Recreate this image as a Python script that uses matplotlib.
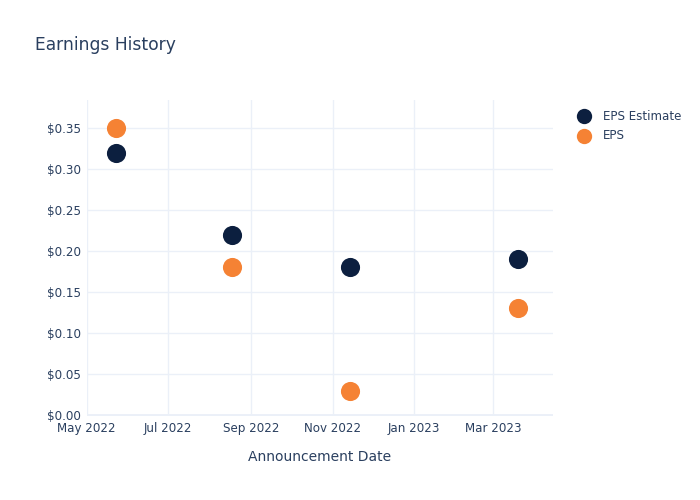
import numpy as np
import pandas as pd
import matplotlib.pyplot as plt
import matplotlib.dates as mdates
from matplotlib.ticker import FuncFormatter

# data
dates = pd.to_datetime(['2022-05-23', '2022-08-18', '2022-11-14', '2023-03-20'])
eps_estimate = [0.32, 0.22, 0.18, 0.19]
eps_actual = [0.35, 0.18, 0.03, 0.13]

navy = '#0c1f3f'
orange = '#f58234'
txt = '#2a3f5f'
grid = '#ebf0f8'

fig = plt.figure(figsize=(7, 5), dpi=100)
ax = fig.add_axes([0.124, 0.168, 0.666, 0.632])

ax.scatter(dates, eps_estimate, s=190, color=navy, label='EPS Estimate', zorder=3, linewidths=0)
ax.scatter(dates, eps_actual, s=190, color=orange, label='EPS', zorder=3, linewidths=0)

ax.set_xlim(pd.Timestamp('2022-05-01'), pd.Timestamp('2023-04-15'))
ax.set_ylim(-0.001, 0.384)

ax.xaxis.set_major_locator(mdates.MonthLocator(bymonth=[1, 3, 5, 7, 9, 11]))
ax.xaxis.set_major_formatter(mdates.DateFormatter('%b %Y'))
ax.set_yticks(np.arange(0, 0.36, 0.05))
ax.yaxis.set_major_formatter(FuncFormatter(lambda v, p: f'${v:.2f}'))

ax.grid(True, color=grid, linewidth=1)
ax.axhline(0, color=grid, linewidth=2, zorder=1)
for s in ax.spines.values():
    s.set_visible(False)
ax.tick_params(length=0, labelsize=8.6, colors=txt, pad=4)

ax.set_xlabel('Announcement Date', fontsize=10, color=txt, labelpad=11)
fig.text(0.05, 0.91, 'Earnings History', fontsize=12.3, color=txt, va='center')

leg = ax.legend(loc='upper left', bbox_to_anchor=(1.03, 0.985), frameon=False,
                fontsize=8.6, labelcolor=txt, handletextpad=0.6, markerscale=0.8,
                borderaxespad=0, labelspacing=0.55)

fig.savefig('out.png')
